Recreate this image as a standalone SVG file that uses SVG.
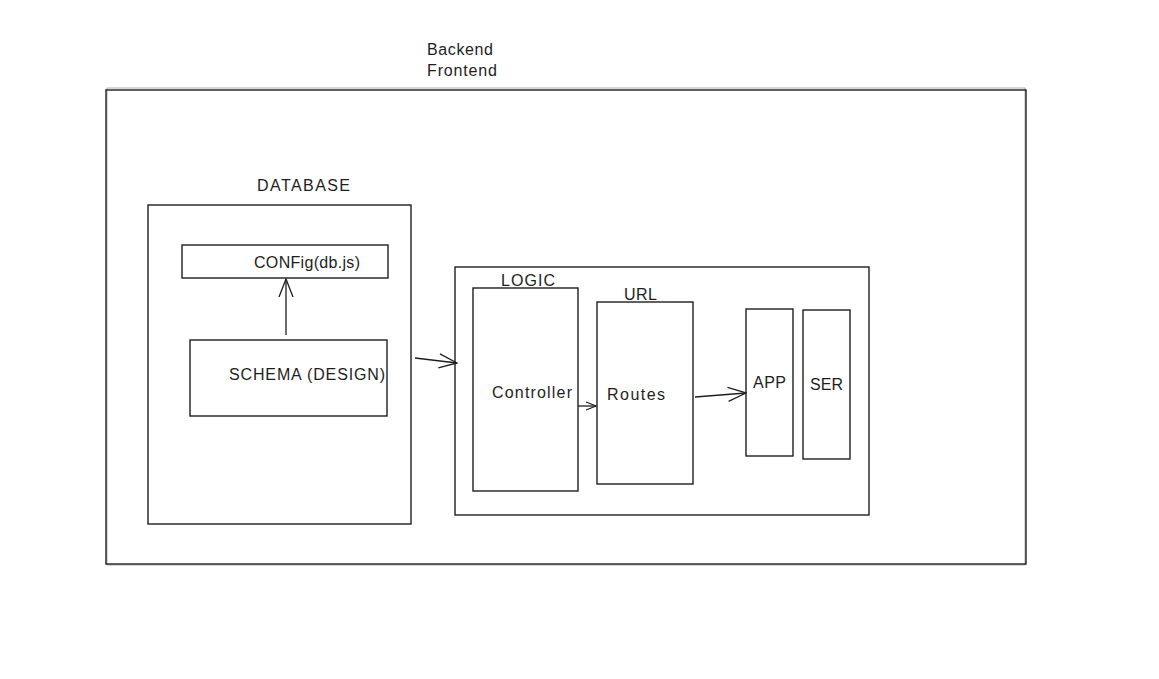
<svg xmlns="http://www.w3.org/2000/svg" width="1159" height="679" viewBox="0 0 1159 679">
<style>
.box{fill:none;stroke:#1e1e1e;stroke-width:1.4}
.box2{fill:none;stroke:#1e1e1e;stroke-width:0.6;opacity:0.6}
.t{font-family:"Liberation Sans",Arial,sans-serif;font-size:16px;fill:#1e1e1e}
.c{fill:none;stroke:#1e1e1e;stroke-width:1.3}
</style>
<defs>
<marker id="ah" viewBox="0 0 20 20" refX="19" refY="10" markerWidth="20" markerHeight="20" markerUnits="userSpaceOnUse" orient="auto">
<path d="M1,3 L19,10 L1,17" fill="none" stroke="#1e1e1e" stroke-width="1.3"/>
</marker>
<marker id="ahs" viewBox="0 0 12 12" refX="11" refY="6" markerWidth="12" markerHeight="12" markerUnits="userSpaceOnUse" orient="auto">
<path d="M1,2 L11,6 L1,10" fill="none" stroke="#1e1e1e" stroke-width="1.2"/>
</marker>
</defs>
<rect width="1159" height="679" fill="#ffffff"/>
<text class="t" x="427" y="55" textLength="66">Backend</text>
<text class="t" x="427" y="76" textLength="70">Frontend</text>
<g id="outer">
<rect class="box" x="106" y="90" width="920" height="474"/>
<rect class="box2" x="107" y="88" width="918" height="477"/>
</g>
<g id="database">
<text class="t" x="257" y="191" textLength="93">DATABASE</text>
<rect class="box" x="148" y="205" width="263" height="319"/>
</g>
<g id="config">
<rect class="box" x="182" y="245" width="206" height="33"/>
<text class="t" x="254" y="268" textLength="106">CONFig(db.js)</text>
</g>
<g id="schema">
<rect class="box" x="190" y="340" width="197" height="76"/>
<text class="t" x="229" y="380" textLength="156">SCHEMA (DESIGN)</text>
</g>
<g id="logic">
<rect class="box" x="455" y="267" width="414" height="248"/>
<text class="t" x="501" y="286" textLength="54">LOGIC</text>
</g>
<g id="controller">
<rect class="box" x="473" y="288" width="105" height="203"/>
<text class="t" x="492" y="398" textLength="80">Controller</text>
</g>
<g id="routes">
<text class="t" x="624" y="300" textLength="33">URL</text>
<rect class="box" x="597" y="302" width="96" height="182"/>
<text class="t" x="607" y="400" textLength="58">Routes</text>
</g>
<g id="app">
<rect class="box" x="746" y="309" width="47" height="147"/>
<text class="t" x="753" y="388" textLength="33">APP</text>
</g>
<g id="ser">
<rect class="box" x="803" y="310" width="47" height="149"/>
<text class="t" x="810" y="390" textLength="33">SER</text>
</g>
<g id="connectors">
<path class="c" d="M286,335 L286,279" marker-end="url(#ah)"/>
<path class="c" d="M415,358 L457,363" marker-end="url(#ah)"/>
<path class="c" d="M578,406 L596,406" marker-end="url(#ahs)"/>
<path class="c" d="M695,397 L746,393" marker-end="url(#ah)"/>
</g>
</svg>
